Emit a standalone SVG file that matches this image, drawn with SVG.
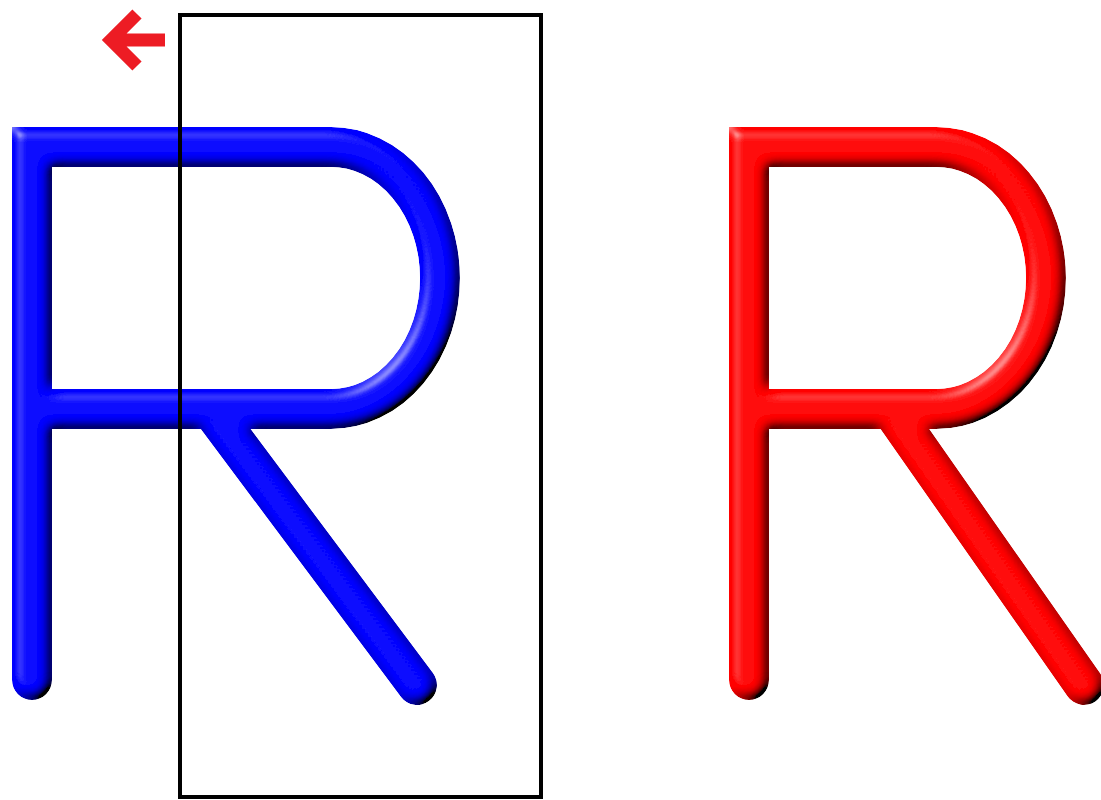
<svg xmlns="http://www.w3.org/2000/svg" width="1101" height="800" viewBox="0 0 1101 800">
  <style>
    .letter { fill: none; stroke-width: 40; stroke-linecap: round; stroke-linejoin: miter; filter: url(#bevel); }
    .blue { stroke: #0000ff; }
    .red { stroke: #ff0000; }
    .frame { fill: none; stroke: #000; stroke-width: 4; }
    .arrow { fill: none; stroke: #ed1c24; stroke-width: 13; stroke-linejoin: miter; stroke-linecap: butt; }
  </style>
  <defs>
    <filter id="bevel" x="-10%" y="-10%" width="120%" height="120%">
      <feGaussianBlur in="SourceAlpha" stdDeviation="6" result="blur"/>
      <feDiffuseLighting in="blur" surfaceScale="8" diffuseConstant="1.45" lighting-color="#ffffff" result="diff">
        <feDistantLight azimuth="225" elevation="45"/>
      </feDiffuseLighting>
      <feSpecularLighting in="blur" surfaceScale="8" specularConstant="0.5" specularExponent="30" lighting-color="#ffffff" result="spec">
        <feDistantLight azimuth="225" elevation="30"/>
      </feSpecularLighting>
      <feComposite in="SourceGraphic" in2="diff" operator="arithmetic" k1="1" k2="0" k3="0" k4="0" result="lit"/>
      <feComposite in="spec" in2="SourceAlpha" operator="in" result="specOut"/>
      <feComposite in="lit" in2="specOut" operator="arithmetic" k1="0" k2="1" k3="0.5" k4="0" result="sum"/>
      <feComposite in="sum" in2="SourceAlpha" operator="in"/>
    </filter>
  </defs>
  <rect width="1101" height="800" fill="#ffffff"/>
  <g id="blue-R">
    <path class="letter blue" d="M32 680 V147 H331 A109 131 0 0 1 331 409 H32 M213 412 L417 685"/>
  </g>
  <g id="red-R">
    <path class="letter red" d="M749 680 V147 H936 A110 131 0 0 1 936 409 H749 M893 412 L1084 685"/>
  </g>
  <g id="frame">
    <rect class="frame" x="180" y="15" width="361" height="782"/>
  </g>
  <g id="arrow">
    <path class="arrow" d="M137 14 L111 40 L137 66 M111 40 H165"/>
  </g>
</svg>
